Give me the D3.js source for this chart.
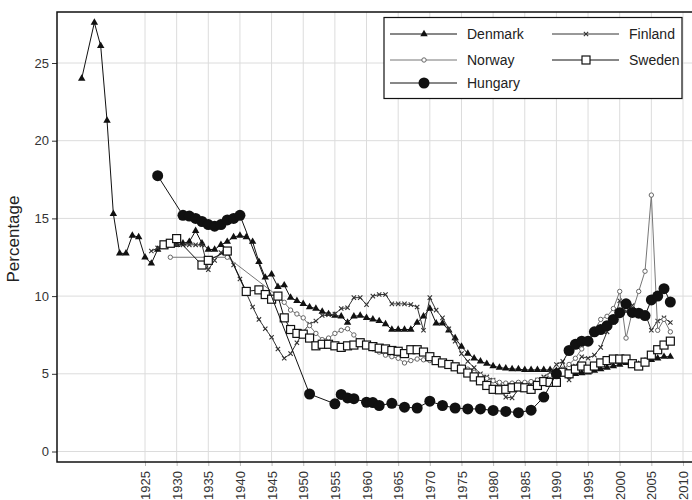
<!DOCTYPE html>
<html>
<head>
<meta charset="utf-8">
<script src="https://cdn.jsdelivr.net/npm/d3@7"></script>
<style>
  body { margin: 0; background: #fff; }
  svg { font-family: "Liberation Sans", Arial, sans-serif; }
</style>
</head>
<body>
<div id="chart"></div>
<script>
// Data (percentages by year)
const denmarkYears = [1915, 1917, 1918, 1919, 1920, 1921, 1922, 1923, 1924, 1925, 1926, 1927, 1928, 1929, 1930, 1931, 1932, 1933, 1934, 1935, 1936, 1937, 1938, 1939, 1940, 1941, 1942, 1943, 1944, 1945, 1946, 1947, 1948, 1949, 1950, 1951, 1952, 1953, 1954, 1955, 1956, 1957, 1958, 1959, 1960, 1961, 1962, 1963, 1964, 1965, 1966, 1967, 1968, 1969, 1970, 1971, 1972, 1973, 1974, 1975, 1976, 1977, 1978, 1979, 1980, 1981, 1982, 1983, 1984, 1985, 1986, 1987, 1988, 1989, 1990, 1991, 1992, 1993, 1994, 1995, 1996, 1997, 1998, 1999, 2000, 2001, 2002, 2003, 2004, 2005, 2006, 2007, 2008];
const denmarkValues = [24.0, 27.6, 26.1, 21.3, 15.3, 12.75, 12.75, 13.9, 13.8, 12.5, 12.1, 13.0, 13.2, 13.3, 13.3, 13.4, 13.5, 14.2, 13.4, 13.0, 13.0, 13.3, 13.5, 13.8, 13.9, 13.8, 13.5, 12.2, 11.2, 11.4, 10.6, 10.7, 9.9, 9.7, 9.5, 9.3, 9.2, 9.0, 8.85, 8.75, 8.7, 8.3, 8.7, 8.75, 8.6, 8.5, 8.4, 8.2, 7.85, 7.85, 7.85, 7.85, 8.3, 8.7, 9.2, 8.25, 8.25, 7.8, 7.3, 6.75, 6.3, 6.0, 5.8, 5.65, 5.5, 5.4, 5.35, 5.3, 5.3, 5.25, 5.25, 5.25, 5.25, 5.25, 5.2, 5.1, 5.0, 5.0, 5.05, 5.1, 5.2, 5.3, 5.4, 5.5, 5.6, 5.7, 5.6, 5.6, 5.8, 5.9, 6.0, 6.1, 6.1];

const finlandYears = [1926, 1927, 1928, 1929, 1930, 1931, 1932, 1933, 1934, 1935, 1936, 1937, 1938, 1939, 1940, 1941, 1942, 1943, 1944, 1945, 1946, 1947, 1948, 1949, 1950, 1951, 1952, 1953, 1954, 1955, 1956, 1957, 1958, 1959, 1960, 1961, 1962, 1963, 1964, 1965, 1966, 1967, 1968, 1969, 1970, 1971, 1972, 1973, 1974, 1975, 1976, 1977, 1978, 1979, 1980, 1981, 1982, 1983, 1984, 1985, 1986, 1987, 1988, 1989, 1990, 1991, 1992, 1993, 1994, 1995, 1996, 1997, 1998, 1999, 2000, 2001, 2002, 2003, 2004, 2005, 2006, 2007, 2008];
const finlandValues = [12.9, 13.1, 13.2, 13.3, 13.3, 13.3, 13.3, 13.3, 13.3, 11.7, 12.3, 12.8, 12.8, 12.0, 11.1, 10.2, 9.3, 8.5, 7.9, 7.35, 6.6, 6.0, 6.3, 7.0, 7.7, 8.2, 8.4, 8.75, 8.8, 8.85, 9.2, 9.25, 9.9, 9.9, 9.45, 10.0, 10.1, 10.1, 9.5, 9.5, 9.5, 9.45, 9.3, 7.8, 9.9, 9.1, 8.6, 7.9, 7.1, 6.3, 5.8, 5.4, 5.0, 4.8, 4.6, 4.2, 3.5, 3.45, 4.0, 4.2, 4.3, 4.6, 4.8, 5.1, 5.6, 5.8, 4.6, 5.5, 6.1, 6.0, 6.2, 6.7, 7.7, 8.3, 9.7, 9.0, 9.4, 9.0, 8.9, 7.8, 8.4, 8.6, 8.3];

const norwayYears = [1929, 1938, 1946, 1947, 1948, 1949, 1950, 1951, 1952, 1953, 1954, 1955, 1956, 1957, 1958, 1959, 1960, 1961, 1962, 1963, 1964, 1965, 1966, 1967, 1968, 1969, 1970, 1971, 1972, 1973, 1974, 1975, 1976, 1977, 1978, 1979, 1980, 1981, 1982, 1983, 1984, 1985, 1986, 1987, 1988, 1989, 1990, 1991, 1992, 1993, 1994, 1995, 1996, 1997, 1998, 1999, 2000, 2001, 2002, 2003, 2004, 2005, 2006, 2007, 2008];
const norwayValues = [12.5, 12.5, 10.0, 9.6, 9.1, 8.85, 8.6, 8.1, 7.6, 7.2, 7.3, 7.6, 7.8, 7.9, 7.5, 7.0, 6.8, 6.6, 6.4, 6.2, 6.1, 6.0, 5.7, 5.85, 5.95, 5.9, 5.85, 5.8, 5.7, 5.6, 5.5, 5.4, 5.3, 5.1, 4.9, 4.7, 4.55, 4.45, 4.4, 4.4, 4.45, 4.45, 4.5, 4.6, 4.7, 4.9, 5.1, 5.3, 5.6, 6.0, 6.6, 7.2, 7.8, 8.5, 8.7, 9.2, 10.3, 7.3, 9.0, 10.3, 11.6, 16.5, 7.8, 8.5, 7.7];

const swedenYears = [1928, 1929, 1930, 1934, 1935, 1938, 1941, 1943, 1944, 1945, 1946, 1947, 1948, 1949, 1950, 1951, 1952, 1953, 1954, 1955, 1956, 1957, 1958, 1959, 1960, 1961, 1962, 1963, 1964, 1965, 1966, 1967, 1968, 1969, 1970, 1971, 1972, 1973, 1974, 1975, 1976, 1977, 1978, 1979, 1980, 1981, 1982, 1983, 1984, 1985, 1986, 1987, 1988, 1989, 1990, 1991, 1992, 1993, 1994, 1995, 1996, 1997, 1998, 1999, 2000, 2001, 2002, 2003, 2004, 2005, 2006, 2007, 2008];
const swedenValues = [13.3, 13.4, 13.7, 12.0, 12.3, 12.9, 10.3, 10.4, 10.1, 9.8, 10.0, 8.6, 7.85, 7.6, 7.55, 7.3, 6.8, 6.9, 6.9, 6.8, 6.7, 6.8, 6.85, 7.0, 6.85, 6.75, 6.65, 6.6, 6.5, 6.45, 6.3, 6.55, 6.55, 6.4, 6.1, 5.85, 5.7, 5.6, 5.45, 5.3, 5.05, 4.8, 4.55, 4.25, 4.0, 3.97, 4.0, 4.1, 4.15, 4.1, 4.0, 4.25, 4.5, 4.45, 4.45, 5.1, 5.0, 5.3, 5.5, 5.3, 5.5, 5.7, 5.85, 5.95, 5.95, 5.95, 5.65, 5.5, 5.75, 6.2, 6.55, 6.85, 7.1];

const hungaryYears = [1927, 1931, 1932, 1933, 1934, 1935, 1936, 1937, 1938, 1939, 1940, 1951, 1955, 1956, 1957, 1958, 1960, 1961, 1962, 1964, 1966, 1968, 1970, 1972, 1974, 1976, 1978, 1980, 1982, 1984, 1986, 1988, 1990, 1992, 1993, 1994, 1995, 1996, 1997, 1998, 1999, 2000, 2001, 2002, 2003, 2004, 2005, 2006, 2007, 2008];
const hungaryValues = [17.75, 15.2, 15.15, 15.0, 14.8, 14.6, 14.5, 14.6, 14.9, 15.0, 15.2, 3.7, 3.07, 3.67, 3.45, 3.4, 3.17, 3.15, 2.96, 3.1, 2.85, 2.8, 3.24, 2.96, 2.8, 2.74, 2.74, 2.64, 2.58, 2.5, 2.66, 3.5, 5.0, 6.5, 6.9, 7.1, 7.1, 7.7, 7.85, 8.1, 8.5, 8.93, 9.5, 8.95, 8.9, 8.75, 9.75, 10.0, 10.48, 9.62];

const xTicks = [1925, 1930, 1935, 1940, 1945, 1950, 1955, 1960, 1965, 1970, 1975, 1980, 1985, 1990, 1995, 2000, 2005, 2010];
const yTicks = [0, 5, 10, 15, 20, 25];

const width = 692, height = 500;
const frame = { left: 57, top: 12, right: 702, bottom: 462 };

const svg = d3.select("#chart").append("svg")
  .attr("width", width)
  .attr("height", height);

svg.append("rect").attr("width", width).attr("height", height).attr("fill", "#fff");

const x = d3.scaleLinear().domain([1925, 2010]).range([145, 683]);
const y = d3.scaleLinear().domain([0, 25]).range([451.5, 63]);

// Grid
svg.append("g").selectAll("line")
  .data(xTicks)
  .join("line")
  .attr("x1", d => x(d)).attr("x2", d => x(d))
  .attr("y1", frame.top).attr("y2", frame.bottom)
  .attr("stroke", "#dcdcdc").attr("stroke-width", 1);

svg.append("g").selectAll("line")
  .data(yTicks)
  .join("line")
  .attr("x1", frame.left).attr("x2", frame.right)
  .attr("y1", d => y(d)).attr("y2", d => y(d))
  .attr("stroke", "#dcdcdc").attr("stroke-width", 1);

// Axes
const yAxis = svg.append("g")
  .attr("transform", `translate(${frame.left},0)`)
  .call(d3.axisLeft(y).tickValues(yTicks).tickSize(5).tickPadding(3));
yAxis.select(".domain").remove();
yAxis.selectAll("line").attr("stroke", "#333");
yAxis.selectAll("text").attr("fill", "#333").style("font-size", "13px");

const xAxis = svg.append("g")
  .attr("transform", `translate(0,${frame.bottom})`)
  .call(d3.axisBottom(x).tickValues(xTicks).tickFormat(d3.format("d")).tickSize(4));
xAxis.select(".domain").remove();
xAxis.selectAll("line").attr("stroke", "#bbb");
xAxis.selectAll("text")
  .attr("transform", "rotate(-90)")
  .attr("text-anchor", "end")
  .attr("x", -9)
  .attr("y", 0)
  .attr("dy", "0.35em")
  .attr("fill", "#333")
  .style("font-size", "13px");

// Frame
svg.append("rect")
  .attr("x", frame.left).attr("y", frame.top)
  .attr("width", frame.right - frame.left).attr("height", frame.bottom - frame.top)
  .attr("fill", "none").attr("stroke", "#111").attr("stroke-width", 1.5);

svg.append("text")
  .attr("transform", `translate(19,${(frame.top + frame.bottom) / 2 + 2}) rotate(-90)`)
  .attr("text-anchor", "middle")
  .attr("fill", "#222")
  .style("font-size", "17px")
  .text("Percentage");

// Marker shapes
const triangle = d3.symbol().type(d3.symbolTriangle).size(24);
const cross = d3.symbol().type(d3.symbolTimes).size(14);

const series = [
  { name: "Denmark", years: denmarkYears, values: denmarkValues, stroke: "#111", width: 1 },
  { name: "Finland", years: finlandYears, values: finlandValues, stroke: "#333", width: 1 },
  { name: "Norway", years: norwayYears, values: norwayValues, stroke: "#777", width: 1 },
  { name: "Sweden", years: swedenYears, values: swedenValues, stroke: "#111", width: 1 },
  { name: "Hungary", years: hungaryYears, values: hungaryValues, stroke: "#111", width: 1 }
];

function drawMarkers(g, name, pts) {
  if (name === "Denmark") {
    g.selectAll("path.m").data(pts).join("path").attr("class", "m")
      .attr("d", triangle)
      .attr("transform", d => `translate(${d[0]},${d[1]})`)
      .attr("fill", "#111");
  } else if (name === "Finland") {
    g.selectAll("path.m").data(pts).join("path").attr("class", "m")
      .attr("d", cross)
      .attr("transform", d => `translate(${d[0]},${d[1]})`)
      .attr("fill", "none").attr("stroke", "#333").attr("stroke-width", 1.1);
  } else if (name === "Norway") {
    g.selectAll("circle").data(pts).join("circle")
      .attr("cx", d => d[0]).attr("cy", d => d[1]).attr("r", 2.2)
      .attr("fill", "#fff").attr("stroke", "#666").attr("stroke-width", 1);
  } else if (name === "Sweden") {
    g.selectAll("rect").data(pts).join("rect")
      .attr("x", d => d[0] - 4).attr("y", d => d[1] - 4)
      .attr("width", 8).attr("height", 8)
      .attr("fill", "#fff").attr("stroke", "#111").attr("stroke-width", 1.2);
  } else {
    g.selectAll("circle").data(pts).join("circle")
      .attr("cx", d => d[0]).attr("cy", d => d[1]).attr("r", 5.5)
      .attr("fill", "#111");
  }
}

const line = d3.line();

series.forEach(s => {
  const pts = s.years.map((yr, i) => [x(yr), y(s.values[i])]);
  const g = svg.append("g");
  g.append("path")
    .attr("d", line(pts))
    .attr("fill", "none")
    .attr("stroke", s.stroke)
    .attr("stroke-width", s.width);
  drawMarkers(g, s.name, pts);
});

// Legend
const legend = svg.append("g");
legend.append("rect")
  .attr("x", 384).attr("y", 17.5).attr("width", 298).attr("height", 81)
  .attr("fill", "#fff").attr("stroke", "#111").attr("stroke-width", 1.2);

const legendPos = {
  Denmark: [390, 34], Finland: [552, 34],
  Norway: [390, 60], Sweden: [552, 60],
  Hungary: [390, 83]
};

series.forEach(s => {
  const [lx, ly] = legendPos[s.name];
  const g = legend.append("g");
  g.append("line")
    .attr("x1", lx).attr("x2", lx + 67)
    .attr("y1", ly).attr("y2", ly)
    .attr("stroke", s.stroke).attr("stroke-width", 1);
  drawMarkers(g, s.name, [[lx + 34, ly]]);
  g.append("text")
    .attr("x", lx + 77).attr("y", ly)
    .attr("dy", "0.35em")
    .attr("fill", "#222")
    .style("font-size", "14px")
    .text(s.name);
});
</script>
</body>
</html>
